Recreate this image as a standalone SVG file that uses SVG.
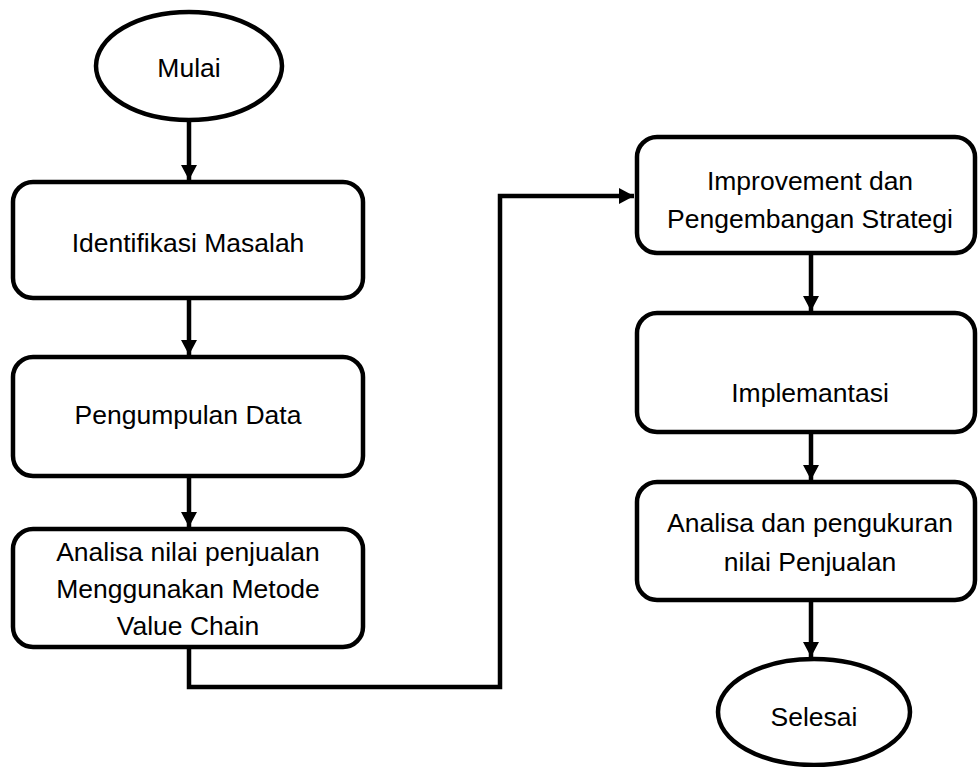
<svg xmlns="http://www.w3.org/2000/svg" width="978" height="767" viewBox="0 0 978 767">
<style>
.n{fill:#fff;stroke:#000;stroke-width:4.5}
.t{font-family:"Liberation Sans",Arial,sans-serif;font-size:26.5px;fill:#000;text-anchor:middle}
.c{fill:none;stroke:#000;stroke-width:4.5}
</style>
<defs>
<marker id="ah" markerUnits="userSpaceOnUse" markerWidth="16" markerHeight="16" refX="15" refY="8" orient="auto">
<path d="M0,0 L15,8 L0,16 Z" fill="#000"/>
</marker>
</defs>
<rect width="978" height="767" fill="#fff"/>
<g id="connectors">
<line class="c" x1="189" y1="120" x2="189" y2="180" marker-end="url(#ah)"/>
<line class="c" x1="189" y1="298" x2="189" y2="355" marker-end="url(#ah)"/>
<line class="c" x1="189" y1="476" x2="189" y2="527" marker-end="url(#ah)"/>
<path class="c" d="M189,647 V687 H500 V196 H634" marker-end="url(#ah)"/>
<line class="c" x1="811" y1="254" x2="811" y2="311" marker-end="url(#ah)"/>
<line class="c" x1="811" y1="432" x2="811" y2="480" marker-end="url(#ah)"/>
<line class="c" x1="811" y1="600" x2="811" y2="657" marker-end="url(#ah)"/>
</g>
<g id="mulai">
<ellipse class="n" cx="189" cy="66" rx="93" ry="54"/>
<text class="t" x="189" y="77">Mulai</text>
</g>
<g id="identifikasi">
<rect class="n" x="13" y="182" width="350" height="116" rx="20"/>
<text class="t" x="188" y="252">Identifikasi Masalah</text>
</g>
<g id="pengumpulan">
<rect class="n" x="13" y="357" width="350" height="119" rx="20"/>
<text class="t" x="188" y="424">Pengumpulan Data</text>
</g>
<g id="analisa-vc">
<rect class="n" x="13" y="529" width="350" height="118" rx="20"/>
<text class="t" x="188" y="561">Analisa nilai penjualan</text>
<text class="t" x="188" y="598">Menggunakan Metode</text>
<text class="t" x="188" y="635">Value Chain</text>
</g>
<g id="improvement">
<rect class="n" x="637" y="137" width="338" height="116" rx="20"/>
<text class="t" x="810" y="190">Improvement dan</text>
<text class="t" x="810" y="228">Pengembangan Strategi</text>
</g>
<g id="implementasi">
<rect class="n" x="637" y="313" width="338" height="119" rx="20"/>
<text class="t" x="810" y="402">Implemantasi</text>
</g>
<g id="analisa-pengukuran">
<rect class="n" x="637" y="482" width="338" height="118" rx="20"/>
<text class="t" x="810" y="532">Analisa dan pengukuran</text>
<text class="t" x="810" y="571">nilai Penjualan</text>
</g>
<g id="selesai">
<ellipse class="n" cx="814" cy="712" rx="96" ry="53"/>
<text class="t" x="814" y="726">Selesai</text>
</g>
</svg>
